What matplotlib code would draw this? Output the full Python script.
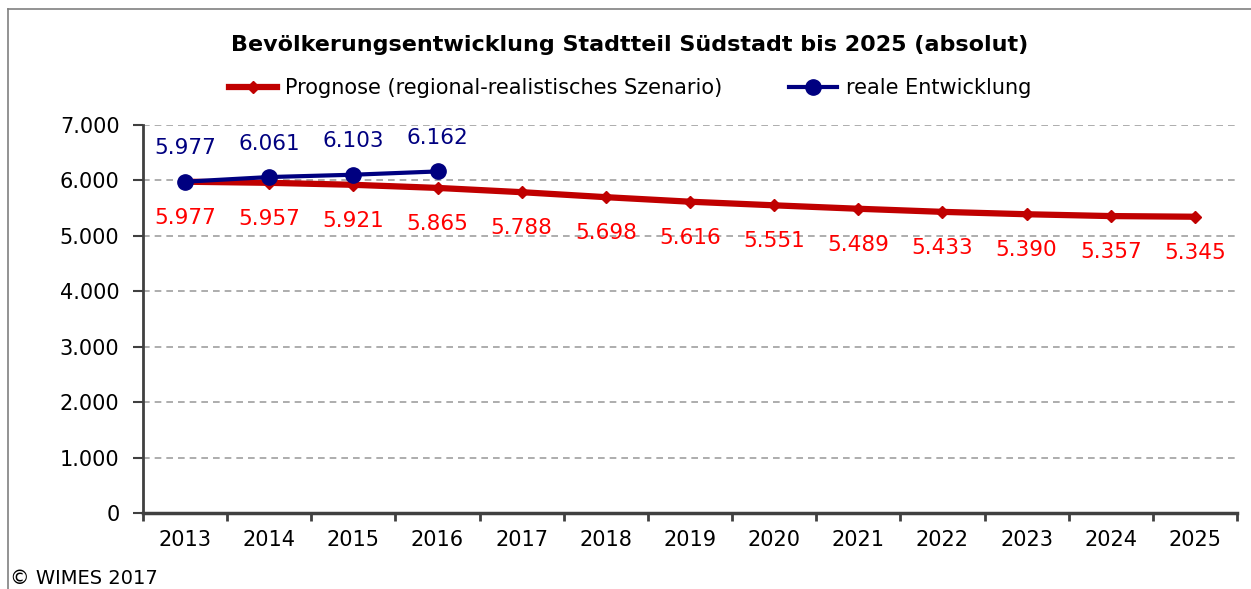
import matplotlib
matplotlib.use("Agg")
import matplotlib.pyplot as plt
from matplotlib.lines import Line2D

years = ["2013", "2014", "2015", "2016", "2017", "2018", "2019",
         "2020", "2021", "2022", "2023", "2024", "2025"]
prognose = [5977, 5957, 5921, 5865, 5788, 5698, 5616, 5551, 5489, 5433, 5390, 5357, 5345]
real = [5977, 6061, 6103, 6162]
yticks = [0, 1000, 2000, 3000, 4000, 5000, 6000, 7000]

title = "Bevölkerungsentwicklung Stadtteil Südstadt bis 2025 (absolut)"
label_prog = "Prognose (regional-realistisches Szenario)"
label_real = "reale Entwicklung"
credit = "© WIMES 2017"

def de(v):
    return f"{v:,}".replace(",", ".")

plt.rcParams['font.family'] = ['DejaVu Sans']
W, H = 1251, 589
fig = plt.figure(figsize=(W / 100, H / 100), dpi=100)
ax = fig.add_axes([143 / W, 1 - 513 / H, (1237 - 143) / W, (513 - 125) / H])

x = list(range(len(years)))
red = "#C00000"
navy = "#000080"
ax.plot(x, prognose, color=red, lw=4.5, marker="D", ms=6, zorder=3)
ax.plot(x[:len(real)], real, color=navy, lw=3, marker="o", ms=11, zorder=4)

for xi, v in zip(x, prognose):
    ax.annotate(de(v), (xi, v), xytext=(0, -26), textcoords="offset points",
                ha="center", va="center", color="#FF0000", fontsize=15.5)
for xi, v in zip(x, real):
    ax.annotate(de(v), (xi, v), xytext=(0, 24), textcoords="offset points",
                ha="center", va="center", color=navy, fontsize=15.5)

ax.set_xlim(-0.5, len(years) - 0.5)
ax.set_ylim(0, 7000)
ax.set_yticks(yticks)
ax.set_yticklabels([de(v) for v in yticks], fontsize=15)
ax.set_xticks([i - 0.5 for i in range(len(years) + 1)])
ax.set_xticklabels([])
ax.set_xticks(x, minor=True)
ax.set_xticklabels(years, minor=True, fontsize=15)
ax.tick_params(axis="x", which="minor", length=0, pad=12)
ax.tick_params(axis="x", which="major", length=6, width=2, color="#404040")
ax.tick_params(axis="y", length=7, width=1.5, color="#404040", pad=10)

ax.grid(axis="y", color="#A0A0A0", ls=(0, (4, 3)), lw=1.2)
ax.set_axisbelow(True)
for s in ["top", "right"]:
    ax.spines[s].set_visible(False)
ax.spines["left"].set_color("#404040")
ax.spines["left"].set_linewidth(2)
ax.spines["bottom"].set_color("#404040")
ax.spines["bottom"].set_linewidth(2.5)

fig.text(630 / W, 1 - 45 / H, title, ha="center", va="center",
         fontsize=16, fontweight="bold")

handles = [Line2D([], [], color=red, lw=4.5, marker="D", ms=6),
           Line2D([], [], color=navy, lw=3, marker="o", ms=11)]
fig.legend(handles, [label_prog, label_real], loc="center",
           bbox_to_anchor=(630 / W, 1 - 88 / H), ncol=2, frameon=False,
           fontsize=15, handlelength=2.3, columnspacing=3.2, handletextpad=0.4)

fig.text(10 / W, 1 - 578 / H, credit, ha="left", va="center", fontsize=14)

fig.add_artist(Line2D([8 / W, 8 / W], [0, 1 - 9 / H], transform=fig.transFigure,
                      color="#808080", lw=1.2))
fig.add_artist(Line2D([8 / W, 1], [1 - 9 / H, 1 - 9 / H], transform=fig.transFigure,
                      color="#808080", lw=1.2))

fig.savefig("out.png", dpi=100)
